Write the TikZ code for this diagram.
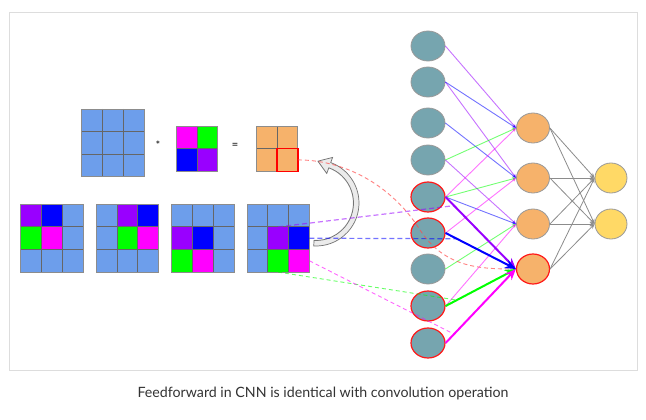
\documentclass[tikz,border=0pt]{standalone}
\usepackage{fontspec}
\setmainfont{Lato}
\usetikzlibrary{shapes.geometric,arrows.meta,calc}
\definecolor{cellblue}{HTML}{6D9EEB}
\definecolor{kpurple}{HTML}{9900FF}
\definecolor{kblue}{HTML}{0000FF}
\definecolor{kgreen}{HTML}{00FF00}
\definecolor{kmag}{HTML}{FF00FF}
\definecolor{tealc}{HTML}{76A5AF}
\definecolor{orangec}{HTML}{F6B26B}
\definecolor{yellowc}{HTML}{FFD966}
\definecolor{framec}{HTML}{DDDDDD}
\definecolor{captc}{HTML}{333333}
\def\cwd{20.8}
\def\chg{22.6}
\newcommand\mycell[5]{\fill[#5] ({#1+(#4)*\cwd},{#2+(#3)*\chg}) rectangle ++(\cwd,\chg);}
\newcommand\gridlines[4]{%
  \foreach \k in {#4} {
    \draw[gridline] ({#1+\k*\cwd},#2) -- ++(0,{#3*\chg});
    \draw[gridline] (#1,{#2+\k*\chg}) -- ++({#3*\cwd},0);
  }
  \draw[gridborder] (#1,#2) rectangle ++({#3*\cwd},{#3*\chg});
}
\tikzset{
  gridline/.style={draw=black!60, line width=0.9pt},
  gridborder/.style={draw=black!45, line width=0.9pt},
  inp/.style={ellipse, draw=black!40, fill=tealc, line width=0.8pt, minimum width=34pt, minimum height=30pt, inner sep=0pt},
  hid/.style={ellipse, draw=black!40, fill=orangec, line width=0.8pt, minimum width=33pt, minimum height=30pt, inner sep=0pt},
  outn/.style={ellipse, draw=black!40, fill=yellowc, line width=0.8pt, minimum width=32pt, minimum height=30pt, inner sep=0pt},
  redb/.style={draw=red!90, line width=1.2pt},
  thinarr/.style={line width=0.9pt, opacity=0.55, -{Stealth[length=4pt,width=3.5pt]}},
  thickarr/.style={line width=2pt, -{Stealth[length=11pt,width=9pt]}},
  grayarr/.style={draw=black!45, line width=0.8pt, -{Stealth[length=5pt,width=4pt]}},
  dsh/.style={dash pattern=on 5pt off 3pt, line width=1.2pt, opacity=0.55},
  dshthin/.style={dash pattern=on 4pt off 3pt, line width=0.9pt, opacity=0.6},
}
\begin{document}
\begin{tikzpicture}[x=1pt,y=-1pt]
\useasboundingbox (0,0) rectangle (646,420);
\fill[white] (0,0) rectangle (646,420);
\draw[framec, line width=0.9pt] (9.5,12.5) rectangle (637,370.5);

% top input 3x3
\fill[cellblue] (81.7,109) rectangle ++({3*\cwd},{3*\chg});
\gridlines{81.7}{109}{3}{1,2}
% kernel
\mycell{176.3}{126}{0}{0}{kmag}
\mycell{176.3}{126}{0}{1}{kgreen}
\mycell{176.3}{126}{1}{0}{kblue}
\mycell{176.3}{126}{1}{1}{kpurple}
\gridlines{176.3}{126}{2}{1}
% output 2x2
\fill[orangec] (256.3,126) rectangle ++({2*\cwd},{2*\chg});
\gridlines{256.3}{126}{2}{1}
\draw[red, line width=1.3pt] ({256.3+\cwd},{126+\chg}) rectangle ++(\cwd,\chg);
\coordinate (rc) at ({256.3+2*\cwd},{126+1.5*\chg});

\node[font=\fontsize{10}{10}\selectfont\bfseries, text=black!85] (star) at (158,145) {*};
\node[font=\fontsize{11}{11}\selectfont\bfseries, text=black!75] (eq) at (235,146) {=};

% bottom grids
\foreach \gx/\ro/\co in {20.7/0/0, 96.3/0/1, 171.7/1/0, 247/1/1} {
  \fill[cellblue] (\gx,204.3) rectangle ++({3*\cwd},{3*\chg});
  \mycell{\gx}{204.3}{\ro}{\co}{kpurple}
  \mycell{\gx}{204.3}{\ro}{\co+1}{kblue}
  \mycell{\gx}{204.3}{\ro+1}{\co}{kgreen}
  \mycell{\gx}{204.3}{\ro+1}{\co+1}{kmag}
  \gridlines{\gx}{204.3}{3}{1,2}
}
\coordinate (sP) at ({247+1.5*\cwd},{204.3+\chg});
\coordinate (sB) at ({247+3*\cwd},{204.3+1.5*\chg});
\coordinate (sG) at ({247+1.5*\cwd},{204.3+3*\chg});
\coordinate (sM) at ({247+3*\cwd},{204.3+2.5*\chg});

% curved gray arrow
\coordinate (C) at (316,203);
\fill[black!25] ($(C)+(93:42)$) arc[start angle=93, end angle=-70, radius=42]
  -- ($(C)+(-70:48)+(-70:0)$) -- ($(C)+(-70:39.5)+(-160:12.5)$) -- ($(C)+(-70:31)$)
  -- ($(C)+(-70:37)$) arc[start angle=-70, end angle=93, radius=37] -- cycle;
\draw[black!55, line width=0.7pt, fill=black!8]
  ($(C)+(93:43)$) arc[start angle=93, end angle=-70, radius=43]
  -- ($(C)+(-70:48.5)$) -- ($(C)+(-70:40)+(-160:12.5)$) -- ($(C)+(-70:31.5)$)
  -- ($(C)+(-70:37.5)$) arc[start angle=-70, end angle=93, radius=37.5] -- cycle;

% nodes
\node[inp] (i1) at (428,46) {};
\node[inp] (i2) at (428,82) {};
\node[inp] (i3) at (428,123) {};
\node[inp] (i4) at (428,160) {};
\node[inp, redb] (i5) at (428,197) {};
\node[inp, redb] (i6) at (428,233) {};
\node[inp] (i7) at (428,269) {};
\node[inp, redb] (i8) at (428,306) {};
\node[inp, redb] (i9) at (428,343) {};
\node[hid] (h1) at (533,128) {};
\node[hid] (h2) at (533,178) {};
\node[hid] (h3) at (533,224) {};
\node[hid, redb] (h4) at (533,269) {};
\node[outn] (o1) at (611,178) {};
\node[outn] (o2) at (611,224) {};

% thin connections
\draw[thinarr, kpurple] (i1.east) -- (h1.west);
\draw[thinarr, kpurple] (i2.east) -- (h2.west);
\draw[thinarr, kpurple] (i4.east) -- (h3.west);
\draw[thinarr, kblue] (i2.east) -- (h1.west);
\draw[thinarr, kblue] (i3.east) -- (h2.west);
\draw[thinarr, kblue] (i5.east) -- (h3.west);
\draw[thinarr, kgreen] (i4.east) -- (h1.west);
\draw[thinarr, kgreen] (i5.east) -- (h2.west);
\draw[thinarr, kgreen] (i7.east) -- (h3.west);
\draw[thinarr, kmag] (i5.east) -- (h1.west);
\draw[thinarr, kmag] (i6.east) -- (h2.west);
\draw[thinarr, kmag] (i8.east) -- (h3.west);

% hidden to output
\foreach \h in {h1,h2,h3,h4} {
  \foreach \o in {o1,o2} {
    \draw[grayarr] (\h.east) -- (\o.west);
  }
}

% dashed lines
\draw[dsh, kpurple] (sP) -- ($(i5.east)!0.12!(h4.west)$);
\draw[dsh, kblue] (sB) -- ($(i6.east)!0.16!(h4.west)$);
\draw[dshthin, kgreen] (sG) -- ($(i8.east)!0.16!(h4.west)$);
\draw[dshthin, kmag] (sM) -- ($(i9.east)!0.12!(h4.west)$);
\draw[dshthin, red!70, opacity=0.7] (rc) .. controls (350,160) and (395,190) .. (420,230)
  .. controls (445,268) and (480,269) .. (h4.west);

% thick connections
\draw[thickarr, kpurple] (i5.east) -- (h4.west);
\draw[thickarr, kblue] (i6.east) -- (h4.west);
\draw[thickarr, kgreen] (i8.east) -- (h4.west);
\draw[thickarr, kmag] (i9.east) -- (h4.west);

\node[font=\fontsize{14.2}{16}\selectfont, text=captc] (cap) at (323,393) {Feedforward in CNN is identical with convolution operation};
\end{tikzpicture}
\end{document}
